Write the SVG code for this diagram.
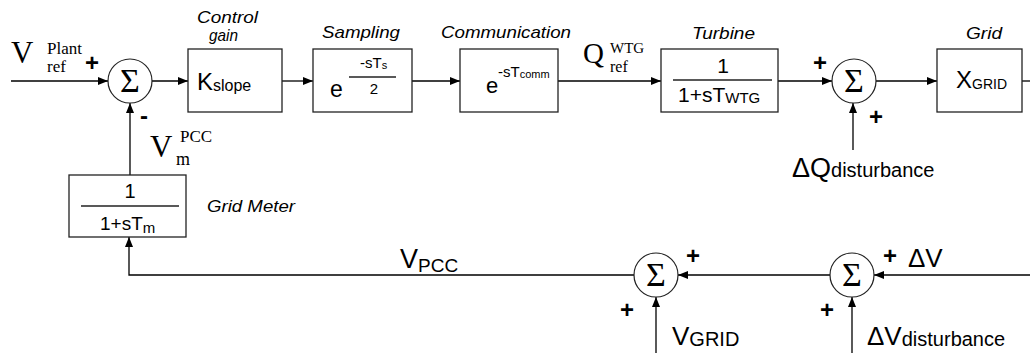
<svg xmlns="http://www.w3.org/2000/svg" width="1030" height="353" viewBox="0 0 1030 353">
<defs>
<marker id="arr" viewBox="0 0 10 8" refX="10" refY="4" markerWidth="10" markerHeight="8" orient="auto" markerUnits="userSpaceOnUse"><path d="M0,0 L10,4 L0,8 z" fill="#000"/></marker>
</defs>
<style>
.box{fill:#fff;stroke:#222;stroke-width:1.3}
.sum{fill:#fff;stroke:#222;stroke-width:1.2}
.ln{fill:none;stroke:#000;stroke-width:1.3}
.fr{stroke:#222;stroke-width:1.3}
.s{font-family:"Liberation Sans",Arial,sans-serif;fill:#000}
.t{font-family:"Liberation Serif","Times New Roman",serif;fill:#000}
.it{font-family:"Liberation Sans",Arial,sans-serif;font-style:italic;font-size:17px;fill:#000}
.sig{font-family:"Liberation Serif","Times New Roman",serif;font-size:34px;text-anchor:middle;fill:#000}
.pl{font-family:"Liberation Sans",Arial,sans-serif;font-size:24px;font-weight:bold;text-anchor:middle;fill:#000}
</style>
<g id="connectors">
<path class="ln" d="M11,81 H108" marker-end="url(#arr)"/>
<path class="ln" d="M152,81 H188" marker-end="url(#arr)"/>
<path class="ln" d="M282,81 H313" marker-end="url(#arr)"/>
<path class="ln" d="M412,81 H460" marker-end="url(#arr)"/>
<path class="ln" d="M558,81 H661" marker-end="url(#arr)"/>
<path class="ln" d="M778,81 H832" marker-end="url(#arr)"/>
<path class="ln" d="M876,81 H937" marker-end="url(#arr)"/>
<path class="ln" d="M1022,81 H1030"/>
<path class="ln" d="M853,150 V103" marker-end="url(#arr)"/>
<path class="ln" d="M130,175 V103" marker-end="url(#arr)"/>
<path class="ln" d="M1030,275 H874" marker-end="url(#arr)"/>
<path class="ln" d="M830,275 H678" marker-end="url(#arr)"/>
<path class="ln" d="M634,275 H129 V237" marker-end="url(#arr)"/>
<path class="ln" d="M656,353 V297" marker-end="url(#arr)"/>
<path class="ln" d="M852,353 V297" marker-end="url(#arr)"/>
</g>
<g id="input-label">
<text class="t" x="11" y="63" font-size="31">V</text>
<text class="t" x="47" y="54" font-size="17">Plant</text>
<text class="t" x="47" y="72" font-size="17">ref</text>
<text class="pl" x="92" y="71">+</text>
</g>
<g id="sum1">
<circle class="sum" cx="130" cy="81" r="22"/>
<text class="sig" x="130" y="92">Σ</text>
<text class="pl" x="144" y="124">-</text>
</g>
<g id="kslope">
<rect class="box" x="188" y="49" width="94" height="63"/>
<text class="it" x="197" y="23" textLength="61" lengthAdjust="spacingAndGlyphs">Control</text>
<text class="it" x="209" y="41" textLength="29" lengthAdjust="spacingAndGlyphs">gain</text>
<text class="s" x="197" y="90" font-size="24">K<tspan font-size="16" dy="1">slope</tspan></text>
</g>
<g id="sampling">
<rect class="box" x="313" y="49" width="99" height="63"/>
<text class="it" x="322" y="38" textLength="78" lengthAdjust="spacingAndGlyphs">Sampling</text>
<text class="s" x="330" y="97" font-size="23">e</text>
<text class="s" x="360" y="68" font-size="15">-sT<tspan font-size="11" dy="1">s</tspan></text>
<line class="fr" x1="349" y1="77" x2="396" y2="77"/>
<text class="s" x="374" y="94" font-size="15" text-anchor="middle">2</text>
</g>
<g id="communication">
<rect class="box" x="460" y="49" width="98" height="63"/>
<text class="it" x="441" y="38" textLength="130" lengthAdjust="spacingAndGlyphs">Communication</text>
<text class="s" x="486" y="93" font-size="22">e</text>
<text class="s" x="498" y="77" font-size="15">-sT<tspan font-size="11" dy="1">comm</tspan></text>
</g>
<g id="qref-label">
<text class="t" x="583" y="63" font-size="29">Q</text>
<text class="t" x="610" y="53" font-size="15">WTG</text>
<text class="t" x="610" y="72" font-size="16">ref</text>
</g>
<g id="turbine">
<rect class="box" x="661" y="49" width="117" height="63"/>
<text class="it" x="692" y="39" textLength="63" lengthAdjust="spacingAndGlyphs">Turbine</text>
<text class="s" x="723" y="73" font-size="21" text-anchor="middle">1</text>
<line class="fr" x1="673" y1="80" x2="772" y2="80"/>
<text class="s" x="678" y="102" font-size="21">1+sT<tspan font-size="15" dy="1">WTG</tspan></text>
</g>
<g id="sum2">
<circle class="sum" cx="854" cy="81" r="22"/>
<text class="sig" x="854" y="92">Σ</text>
<text class="pl" x="820" y="71">+</text>
<text class="pl" x="876" y="125">+</text>
<text class="s" x="792" y="177" font-size="27">ΔQ<tspan font-size="20" dy="0">disturbance</tspan></text>
</g>
<g id="grid">
<rect class="box" x="937" y="49" width="85" height="63"/>
<text class="it" x="966" y="39" textLength="36" lengthAdjust="spacingAndGlyphs">Grid</text>
<text class="s" x="956" y="88" font-size="24">X<tspan font-size="14" dy="1">GRID</tspan></text>
</g>
<g id="gridmeter">
<rect class="box" x="69" y="175" width="117" height="62"/>
<text class="it" x="207" y="212" textLength="88" lengthAdjust="spacingAndGlyphs">Grid Meter</text>
<text class="s" x="130" y="198" font-size="20" text-anchor="middle">1</text>
<line class="fr" x1="81" y1="206" x2="179" y2="206"/>
<text class="s" x="100" y="230" font-size="19">1+sT<tspan font-size="15" dy="3">m</tspan></text>
<text class="t" x="150" y="157" font-size="31">V</text>
<text class="t" x="180" y="142" font-size="17">PCC</text>
<text class="t" x="176" y="165" font-size="18">m</text>
</g>
<g id="vpcc-label">
<text class="s" x="400" y="268" font-size="27">V<tspan font-size="19" dy="4">PCC</tspan></text>
</g>
<g id="sum3">
<circle class="sum" cx="656" cy="275" r="22"/>
<text class="sig" x="656" y="286">Σ</text>
<text class="pl" x="693" y="264">+</text>
<text class="pl" x="627" y="318">+</text>
<text class="s" x="672" y="345" font-size="26">V<tspan font-size="20" dy="1">GRID</tspan></text>
</g>
<g id="sum4">
<circle class="sum" cx="852" cy="275" r="22"/>
<text class="sig" x="852" y="286">Σ</text>
<text class="pl" x="890" y="264">+</text>
<text class="pl" x="827" y="318">+</text>
<text class="s" x="908" y="267" font-size="26">ΔV</text>
<text class="s" x="867" y="345" font-size="26">ΔV<tspan font-size="20" dy="1">disturbance</tspan></text>
</g>
</svg>
